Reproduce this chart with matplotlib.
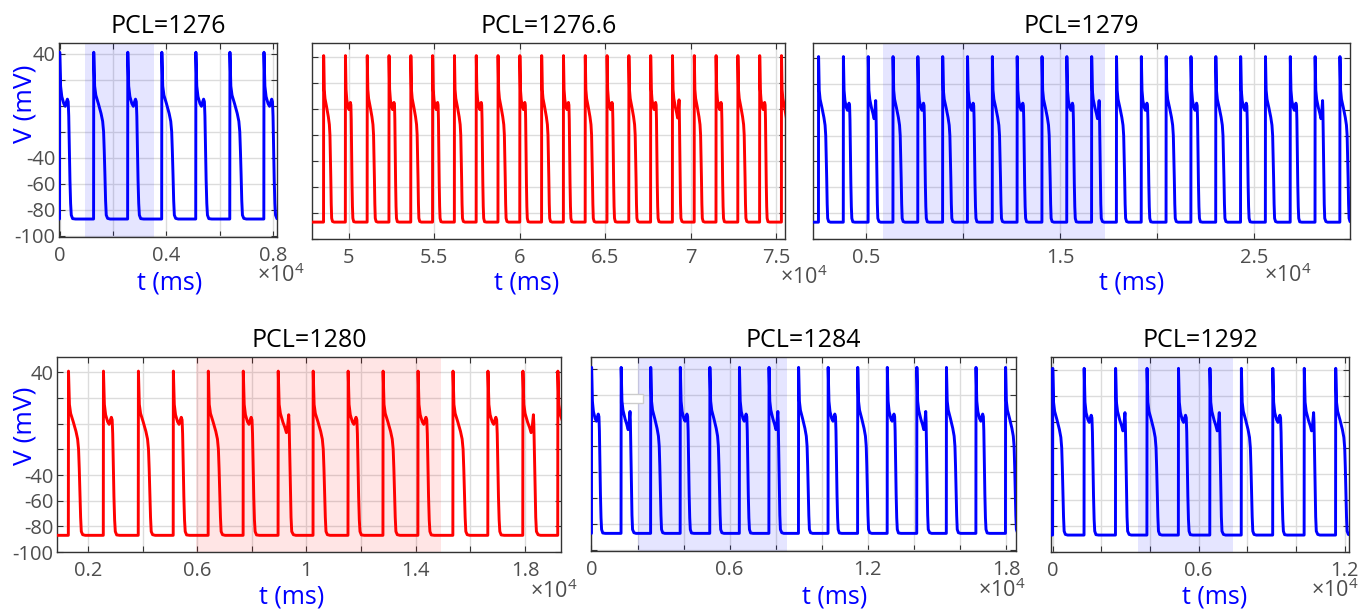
import numpy as np
import matplotlib.pyplot as plt
from matplotlib.patches import Rectangle

plt.rcParams['font.family'] = 'Open Sans'
plt.rcParams['mathtext.fontset'] = 'custom'
plt.rcParams['mathtext.rm'] = 'Open Sans'

REST = -87.0

# action potential shapes: ms after the stimulus, membrane potential in mV
ap_long_t = [0, 6, 40, 85, 180, 280, 340, 375, 400, 425, 450, 475, 525, 620]
ap_long_v = [REST, 41, 15, 8, 1.5, -6, -12, -20, -35, -53, -73, -84, -86.5, REST]

ap_dome_t = [0, 6, 40, 85, 160, 215, 260, 295, 325, 345, 365, 390, 415, 440, 490, 600]
ap_dome_v = [REST, 41, 15, 7, 1.5, -0.5, 3, 5, 3, -8, -30, -57, -75, -84, -86.7, REST]

ap_spike_t = [0, 6, 40, 85, 180, 250, 305, 330, 390, 405, 425, 450, 475, 500, 560, 650]
ap_spike_v = [REST, 41, 15, 8, 1, -3, -7, -6, 7, 0, -22, -48, -73, -84, -86.5, REST]

# one panel per pacing cycle length
titles = ['PCL=1276', 'PCL=1276.6', 'PCL=1279', 'PCL=1280', 'PCL=1284', 'PCL=1292']
pcls = [1276, 1276.6, 1279, 1280, 1284, 1292]
first_beat = [0, 38, 2, 1, 0, 0]
# L = long plateau, D = notch and dome, E = dip with early spike
beat_kinds = ['DLDLDLD',
              'LDLDLDLDLDLDLDLDELDLDL',
              'LDELDLDLDLDELDLDLDLDEL',
              'LDLDLDELDLDLDEL',
              'DELDLDELDLDELDL',
              'LDELDELDEL']
trace_colors = ['#0000ff', '#ff0000', '#0000ff', '#ff0000', '#0000ff', '#0000ff']
shaded = [(940, 3525), None, (5870, 17333), (5970, 14930), (2022, 8506), (3523, 7414)]

x_lims = [(-20, 8150), (47835, 75530), (2277, 29940), (865, 19320), (-20, 18434), (-65, 12180)]
y_lims = [(-100.8, 48.1), (-100, 50.7), (-98.7, 51.5), (-100, 52), (-100.6, 49), (-99.7, 49.7)]
x_ticks = [np.arange(0, 8001, 2000), np.arange(50000, 75001, 5000),
           np.arange(5000, 25001, 5000), np.arange(2000, 18001, 2000),
           np.arange(0, 18001, 2000), np.arange(0, 12001, 2000)]
x_label_every = [2, 1, 2, 2, 3, 3]
y_ticks = [-100, -80, -60, -40, -20, 0, 20, 40]
y_tick_labels = ['-100', '-80', '-60', '-40', '', '', '', '40']

# axes boxes in pixels: left, top, right, bottom
boxes = [(59, 43, 277, 237), (312, 43, 785, 239), (813, 43, 1350, 239),
         (57, 357, 561, 552), (591, 357, 1016, 551), (1051, 357, 1349, 552)]
xlabel_pos = [(170, 289), (527, 289), (1132, 289), (292, 604), (835, 604), (1215, 604)]
expo_pos = [(257, 282), (780, 284), (1264, 282), (530, 598), (978, 597), (1311, 597)]

shapes = {'L': (ap_long_t, ap_long_v), 'D': (ap_dome_t, ap_dome_v), 'E': (ap_spike_t, ap_spike_v)}


def build_trace(pcl, first, kinds, t_start):
    ts = [t_start]
    vs = [REST]
    for i, k in enumerate(kinds):
        onset = (first + i) * pcl
        st, sv = shapes[k]
        ts.extend(onset + np.asarray(st, dtype=float))
        vs.extend(sv)
    return np.array(ts), np.array(vs)


W, H = 1364, 612
fig = plt.figure(figsize=(W / 100, H / 100), dpi=100)

for i in range(6):
    l, t, r, b = boxes[i]
    ax = fig.add_axes([l / W, 1 - b / H, (r - l) / W, (b - t) / H])
    ax.set_axisbelow(True)
    ax.grid(True, color='#dcdcdc', lw=1.0)

    if shaded[i] is not None:
        a0, a1 = shaded[i]
        ax.axvspan(a0, a1, color=trace_colors[i], alpha=0.1, lw=0, zorder=1)

    tt, vv = build_trace(pcls[i], first_beat[i], beat_kinds[i], min(x_lims[i][0], first_beat[i] * pcls[i]))
    ax.plot(tt, vv, color=trace_colors[i], lw=2.1, zorder=3, solid_joinstyle='round')

    ax.set_xlim(*x_lims[i])
    ax.set_ylim(*y_lims[i])
    labels = [f'{x / 1e4:g}' if j % x_label_every[i] == 0 else '' for j, x in enumerate(x_ticks[i])]
    ax.set_xticks(x_ticks[i], labels)
    if i in (0, 3):
        ax.set_yticks(y_ticks, y_tick_labels)
    else:
        ax.set_yticks(y_ticks, [''] * len(y_ticks))
    ax.tick_params(direction='in', length=4, width=0.8, top=True, right=True,
                   labelsize=14.5, labelcolor='#4d4d4d', color='#333333')
    ax.tick_params(axis='x', pad=6.5)
    ax.tick_params(axis='y', pad=2.5)
    for s in ax.spines.values():
        s.set_color('#333333')
        s.set_linewidth(1.0)
    ax.set_title(titles[i], fontsize=18, pad=7, color='black')

    if i == 4:
        # stray empty box inside the panel
        ax.add_patch(Rectangle((1241, 13.5), 1016, 7.3, facecolor='white',
                               edgecolor='#cccccc', lw=1.0, zorder=2))

    xl, yl = xlabel_pos[i]
    fig.text(xl / W, 1 - yl / H, 't (ms)', color='#0000ff', fontsize=18,
             ha='center', va='baseline')
    ex, ey = expo_pos[i]
    fig.text(ex / W, 1 - ey / H, r'$\times\mathregular{10^{4}}$', color='#4d4d4d',
             fontsize=15.5, ha='left', va='baseline')

for yc in (104, 426):
    fig.text(25 / W, 1 - yc / H, 'V (mV)', color='#0000ff', fontsize=19,
             rotation=90, ha='center', va='center')

fig.savefig('out.png', dpi=100)
